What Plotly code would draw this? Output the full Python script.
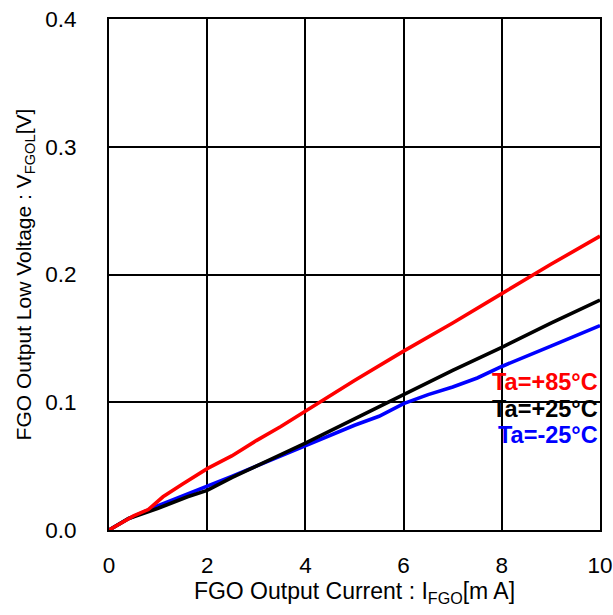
import plotly.graph_objects as go

x_red = [0, 0.5, 0.8, 1.1, 1.5, 2.0, 2.5, 3.0, 3.5, 4.0, 5.0, 6.0, 7.0, 8.0, 9.0, 10.0]
y_red = [0, 0.011, 0.016, 0.026, 0.036, 0.048, 0.058, 0.070, 0.081, 0.093, 0.117, 0.140, 0.162, 0.185, 0.208, 0.230]

x_black = [0, 0.4, 1.0, 1.6, 2.0, 2.5, 3.0, 3.5, 4.0, 5.0, 6.0, 7.0, 8.0, 9.0, 10.0]
y_black = [0, 0.009, 0.017, 0.026, 0.031, 0.041, 0.050, 0.059, 0.068, 0.087, 0.106, 0.125, 0.143, 0.162, 0.180]

x_blue = [0, 0.4, 1.0, 1.6, 2.0, 2.5, 3.0, 3.5, 4.0, 5.0, 5.5, 6.0, 6.5, 7.0, 7.5, 8.0, 9.0, 10.0]
y_blue = [0, 0.009, 0.019, 0.028, 0.034, 0.042, 0.050, 0.058, 0.066, 0.082, 0.089, 0.099, 0.106, 0.112, 0.119, 0.128, 0.144, 0.160]

labels = ["Ta=+85°C", "Ta=+25°C", "Ta=-25°C"]
colors = ["#ff0000", "#000000", "#0000ff"]
x_ticks = [0, 2, 4, 6, 8, 10]
y_ticks = [0.0, 0.1, 0.2, 0.3, 0.4]
y_tick_text = ["0.0", "0.1", "0.2", "0.3", "0.4"]

fig = go.Figure()
for xs, ys, c, name in [(x_blue, y_blue, colors[2], labels[2]),
                        (x_black, y_black, colors[1], labels[1]),
                        (x_red, y_red, colors[0], labels[0])]:
    fig.add_trace(go.Scatter(x=xs, y=ys, mode="lines", line=dict(color=c, width=3.6), name=name, showlegend=False))

ann_y = [0.1155, 0.0945, 0.074]
for lab, c, yy in zip(labels, colors, ann_y):
    fig.add_annotation(x=10, y=yy, xref="x", yref="y", text="<b>" + lab + "</b>", showarrow=False,
                       xanchor="right", yanchor="middle", xshift=0,
                       font=dict(family="Liberation Sans, Arial", size=23.5, color=c))

fig.update_layout(
    width=613, height=615,
    margin=dict(l=109, r=13, t=19, b=85),
    plot_bgcolor="white", paper_bgcolor="white",
    font=dict(family="Liberation Sans, Arial", size=22.5, color="black"),
)
fig.update_xaxes(range=[0, 10], tickvals=x_ticks, showgrid=True, gridcolor="black", gridwidth=2,
                 showline=True, linecolor="black", linewidth=2, mirror=True, zeroline=False,
                 ticks="", ticklabelstandoff=14, automargin=False, ticklabeloverflow="allow",
                 title=dict(text="FGO Output Current : I<sub>FGO</sub>[m A]", font=dict(size=23), standoff=3))
fig.update_yaxes(range=[0, 0.4], tickvals=y_ticks, ticktext=y_tick_text, showgrid=True, gridcolor="black", gridwidth=2,
                 showline=True, linecolor="black", linewidth=2, mirror=True, zeroline=False,
                 ticks="", ticklabelstandoff=26, automargin=False, ticklabeloverflow="allow",
                 title=dict(text="FGO Output Low Voltage : V<sub>FGOL</sub>[V]", font=dict(size=21), standoff=8))

fig.write_html("out.html", config={"displayModeBar": False},
               post_script="document.body.style.margin='0';document.body.style.overflow='hidden';")
